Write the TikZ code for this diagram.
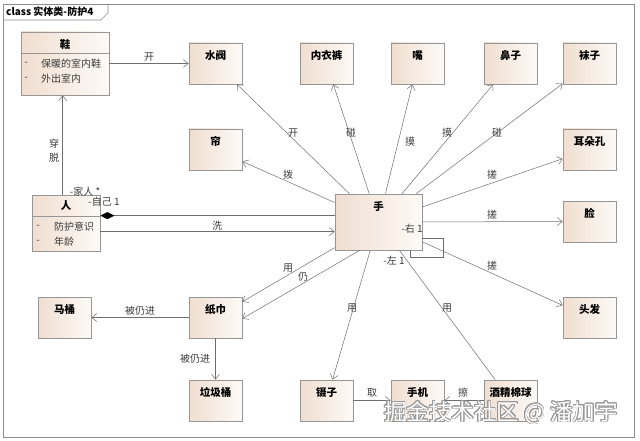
\documentclass[tikz,border=0pt]{standalone}
\usepackage{fontspec}
\setmainfont{Noto Sans CJK SC}
\usepackage{contour}
\contourlength{0.7pt}
\usetikzlibrary{arrows.meta,shadows,calc}
\definecolor{boxA}{RGB}{240,222,208}
\definecolor{boxB}{RGB}{253,250,247}
\definecolor{boxline}{RGB}{150,150,150}
\definecolor{edgecol}{RGB}{110,110,110}
\definecolor{lblcol}{RGB}{60,60,60}
\definecolor{framecol}{RGB}{140,140,140}
\begin{document}
\begin{tikzpicture}[x=1pt,y=-1pt,
  ent/.style={draw=boxline, line width=0.7pt, left color=boxA, right color=boxB,
    inner sep=0pt, minimum width=53pt, minimum height=41pt,
    drop shadow={shadow xshift=1.2pt, shadow yshift=-1.2pt, opacity=0.3, fill=black}},
  ttl/.style={font=\fontsize{10.5}{12}\selectfont\bfseries, inner sep=0pt, anchor=north, yshift=-8pt},
  lbl/.style={font=\fontsize{10}{12}\selectfont, text=lblcol, inner sep=0pt},
  attr/.style={font=\fontsize{10}{12}\selectfont, text=lblcol, inner sep=0pt},
  edge/.style={draw=edgecol, line width=0.5pt},
  arr/.style={edge, -{Straight Barb[length=5pt,width=8pt]}},
]
\useasboundingbox (0,0) rectangle (640,441);
\fill[white] (0,0) rectangle (640,441);
% frame
\draw[framecol, line width=0.7pt] (3,4) rectangle (634,437);
\draw[framecol, line width=0.7pt] (3,20) -- (101,20) -- (108,13) -- (108,4);
\node[font=\fontsize{10}{12}\selectfont\bfseries, anchor=west, inner sep=0pt] (title) at (6,12) {class 实体类-防护4};

% class boxes with attributes
\node[ent, minimum width=88pt, minimum height=63pt, label={[ttl]north:鞋}] (xie) at (65,63.5) {};
\draw[boxline, line width=0.6pt] ($(xie.north west)+(0,22)$) -- ($(xie.north east)+(0,22)$);
\node[attr] (xiea1d) at (26,64) {-};
\node[attr, anchor=west] (xiea1) at (41,64) {保暖的室内鞋};
\node[attr] (xiea2d) at (26,79) {-};
\node[attr, anchor=west] (xiea2) at (41,79) {外出室内};

\node[ent, minimum width=68pt, minimum height=56pt, label={[ttl, yshift=2pt]north:人}] (ren) at (66,223) {};
\draw[boxline, line width=0.6pt] ($(ren.north west)+(0,22)$) -- ($(ren.north east)+(0,22)$);
\node[attr] (rena1d) at (38,227) {-};
\node[attr, anchor=west] (rena1) at (54,227) {防护意识};
\node[attr] (rena2d) at (38,242) {-};
\node[attr, anchor=west] (rena2) at (54,242) {年龄};

% simple boxes
\node[ent, label={[ttl]north:水阀}] (shuifa) at (215.5,63.5) {};
\node[ent, label={[ttl]north:内衣裤}] (neiyiku) at (326.5,63.5) {};
\node[ent, label={[ttl]north:嘴}] (zui) at (417.5,63.5) {};
\node[ent, label={[ttl]north:鼻子}] (bizi) at (510.5,63.5) {};
\node[ent, label={[ttl]north:袜子}] (wazi) at (589.5,63.5) {};
\node[ent, label={[ttl]north:帘}] (lian) at (215.5,149.5) {};
\node[ent, label={[ttl]north:耳朵孔}] (erduo) at (589.5,149.5) {};
\node[ent, minimum width=87pt, minimum height=56pt, label={[ttl]north:手}] (shou) at (378.5,222) {};
\node[ent, label={[ttl]north:脸}] (face) at (589.5,221.5) {};
\node[ent, label={[ttl]north:头发}] (toufa) at (589.5,317.5) {};
\node[ent, label={[ttl]north:马桶}] (matong) at (64.5,317.5) {};
\node[ent, label={[ttl]north:纸巾}] (zhijin) at (215.5,317.5) {};
\node[ent, label={[ttl]north:垃圾桶}] (laji) at (215.5,400.5) {};
\node[ent, label={[ttl]north:镊子}] (niezi) at (326.5,400.5) {};
\node[ent, label={[ttl]north:手机}] (shouji) at (417.5,400.5) {};
\node[ent, label={[ttl]north:酒精棉球}] (jiujing) at (510.5,400.5) {};

% connectors
\draw[arr] (xie.east) -- (shuifa.west);
\node[lbl] (l01) at (149,57) {开};
\draw[arr] ($(ren.north west)+(31,0)$) -- ($(xie.south west)+(42,0)$);
\node[lbl, align=center, font=\fontsize{10}{14}\selectfont] (l02) at (54,151) {穿\\脱};
\node[lbl] (l03) at (85,192) {-家人 *};
\node[lbl] (l04) at (104,202) {-自己 1};
\draw[edge, -{Diamond[length=14pt,width=7pt,black]}] ($(shou.north west)+(0,22)$) -- ($(ren.north east)+(0,21)$);
\draw[arr] ($(ren.north east)+(0,37)$) -- ($(shou.north west)+(0,38)$);
\node[lbl] (l05) at (217,226) {洗};

\draw[arr] (shou) -- (shuifa);
\node[lbl] (l06) at (293,133) {开};
\draw[arr] (shou) -- (neiyiku);
\node[lbl] (l07) at (351,133) {碰};
\draw[arr] (shou) -- (zui);
\node[lbl] (l08) at (410,142) {摸};
\draw[arr] (shou) -- (bizi);
\node[lbl] (l09) at (447,133) {摸};
\draw[arr] (shou) -- (wazi);
\node[lbl] (l10) at (497,133) {碰};
\draw[arr] (shou) -- (lian);
\node[lbl] (l11) at (288,175) {拨};
\draw[arr] (shou) -- (erduo);
\node[lbl] (l12) at (492,175) {搓};
\draw[arr] (shou) -- (face);
\node[lbl] (l13) at (492,215) {搓};
\draw[arr] (shou) -- (toufa);
\node[lbl] (l14) at (492,266) {搓};

% self loop
\draw[edge] ($(shou.north east)+(0,45)$) -- ++(21,0) -- ++(0,19) -- ++(-33,0) -- ++(0,-8);
\node[lbl] (l15) at (412,229) {-右 1};
\node[lbl] (l16) at (394,261) {-左 1};

\draw[arr] (shou) -- (zhijin);
\node[lbl] (l17) at (288,268) {用};
\draw[arr] ($(shou.south west)+(25,0)$) -- ($(zhijin.north east)+(0,22)$);
\node[lbl] (l18) at (303,277) {仍};
\draw[arr] (zhijin) -- (matong);
\node[lbl] (l19) at (140,311) {被仍进};
\draw[arr] (zhijin) -- (laji);
\node[lbl] (l20) at (195,359) {被仍进};
\draw[arr] (shou) -- (niezi);
\node[lbl] (l21) at (352,308) {用};
\draw[edge] (jiujing) -- (shou);
\node[lbl] (l22) at (447,308) {用};
\draw[arr] (niezi) -- (shouji);
\node[lbl] (l23) at (372,393) {取};
\draw[arr] (jiujing) -- (shouji);
\node[lbl] (l24) at (463,393) {擦};

% watermark
\node[font=\fontsize{22.5}{26}\selectfont, text=white, inner sep=0pt] (wm) at (501,413) {\contour{gray!80}{掘金技术社区 @ 潘加宇}};
\end{tikzpicture}
\end{document}
